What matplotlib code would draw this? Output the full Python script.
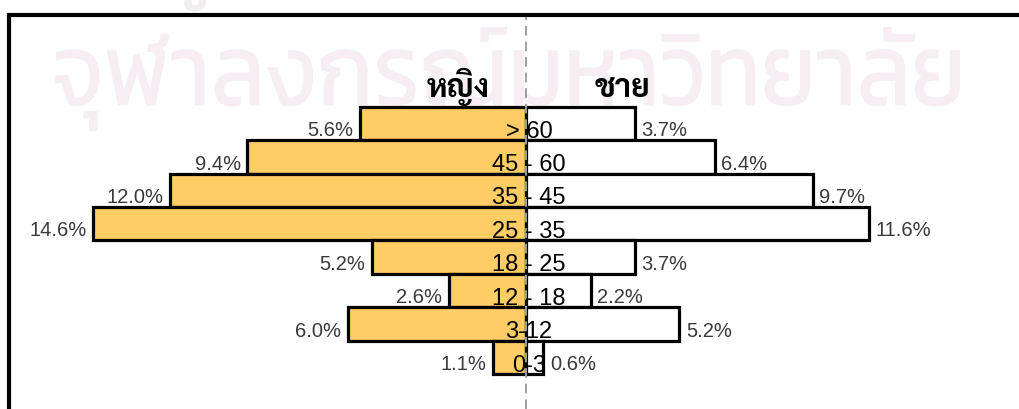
import os
import matplotlib
matplotlib.use("Agg")
import matplotlib.pyplot as plt
from matplotlib.font_manager import FontProperties
from matplotlib.textpath import TextPath
from matplotlib.patches import PathPatch
from matplotlib.path import Path
from matplotlib.lines import Line2D
import numpy as np

# ---------------- data (top row first) ----------------
age_groups = ["> 60", "45 - 60", "35 - 45", "25 - 35", "18 - 25", "12 - 18", "3-12", "0-3"]
female_pct = [5.6, 9.4, 12.0, 14.6, 5.2, 2.6, 6.0, 1.1]
male_pct = [3.7, 6.4, 9.7, 11.6, 3.7, 2.2, 5.2, 0.6]
female_title = "หญิง"
male_title = "ชาย"
watermark_text = "จุฬาลงกรณ์มหาวิทยาลัย"
watermark_top_text = "ศูนย์วิทยทรัพยากร"

W, H = 1019, 409
GF = "/usr/share/fonts/truetype/google-fonts/"


def fprop(fname, family, weight="normal", size=None):
    if os.path.exists(GF + fname):
        p = FontProperties(fname=GF + fname)
    else:
        p = FontProperties(family=family, weight=weight)
    if size is not None:
        p.set_size(size)
    return p


fig = plt.figure(figsize=(W / 100, H / 100), dpi=100)
fig.patch.set_facecolor("white")

# axes covering whole figure; data scale: 29.6 px per percent, centre at x=525.5 px
PX = 29.6
CX = 525.5
ax = fig.add_axes([0, 0, 1, 1])
ax.set_xlim(-CX / PX, (W - CX) / PX)
ROW = 33.4
BOT = 374.0
n = len(age_groups)
ax.set_ylim((BOT - H) / ROW - 0.5, BOT / ROW - 0.5)
ax.axis("off")

ypos = np.arange(n)[::-1]  # top row gets highest y

ax.barh(ypos, [-v for v in female_pct], height=1.0, color="#FFCC66",
        edgecolor="black", linewidth=2.3, zorder=2)
ax.barh(ypos, male_pct, height=1.0, color="white",
        edgecolor="black", linewidth=2.3, zorder=2)

# centre dashed line
ax.add_line(Line2D([0, 0], [(BOT - H) / ROW - 0.5, (BOT - 16) / ROW - 0.5],
                   color="#A0A0A0", lw=1.4, ls=(0, (5, 3)), zorder=3))

lab_font = "Liberation Sans"
for y, lab, f, m in zip(ypos, age_groups, female_pct, male_pct):
    base = y - 0.5 + 2.5 / ROW
    ax.text(0.12, base, lab, ha="center", va="baseline", fontsize=17,
            family=lab_font, color="black", zorder=5)
    ax.text(-f - 6.5 / PX, base + 1.5 / ROW, f"{f:.1f}%", ha="right", va="baseline",
            fontsize=14.5, family=lab_font, color="#3a3a3a", zorder=5)
    ax.text(m + 6.5 / PX, base + 1.5 / ROW, f"{m:.1f}%", ha="left", va="baseline",
            fontsize=14.5, family=lab_font, color="#3a3a3a", zorder=5)

# titles
tprop = fprop("Sarabun-Bold.ttf", "DejaVu Sans", "bold", 23)
fig.text(458.5 / W, 1 - 97 / H, female_title, ha="center", va="baseline",
         fontproperties=tprop, color="black", zorder=6)
fig.text(622.5 / W, 1 - 97 / H, male_title, ha="center", va="baseline",
         fontproperties=tprop, color="black", zorder=6)

# frame (left and top thick lines, right/bottom outside the picture)
fl = 9.0 / W
ft = 1 - 15.0 / H
fig.add_artist(Line2D([fl, fl, 1.01], [-0.01, ft, ft], transform=fig.transFigure,
                      color="black", lw=3.0, solid_joinstyle="miter", zorder=10))


# watermark: faint pink text fitted into a pixel box
def watermark(text, x0, x1, ytop, ybot, color, alpha):
    wp = fprop("Kanit-Regular.ttf", "DejaVu Sans")
    tp = TextPath((0, 0), text, size=100, prop=wp)
    v = tp.vertices.copy()
    ext = tp.get_extents()
    xs = (v[:, 0] - ext.x0) / (ext.x1 - ext.x0) * (x1 - x0) + x0
    ys = (ext.y1 - v[:, 1]) / (ext.y1 - ext.y0) * (ybot - ytop) + ytop
    nv = np.column_stack([xs / W, 1 - ys / H])
    p = Path(nv, tp.codes)
    fig.add_artist(PathPatch(p, transform=fig.transFigure, facecolor=color,
                             edgecolor="none", alpha=alpha, zorder=4))


watermark(watermark_text, 55, 960, 27, 131, "#B05A80", 0.10)
watermark(watermark_top_text, 160, 830, -85, 12, "#9A7080", 0.12)

fig.savefig("out.png", dpi=100, facecolor="white")
